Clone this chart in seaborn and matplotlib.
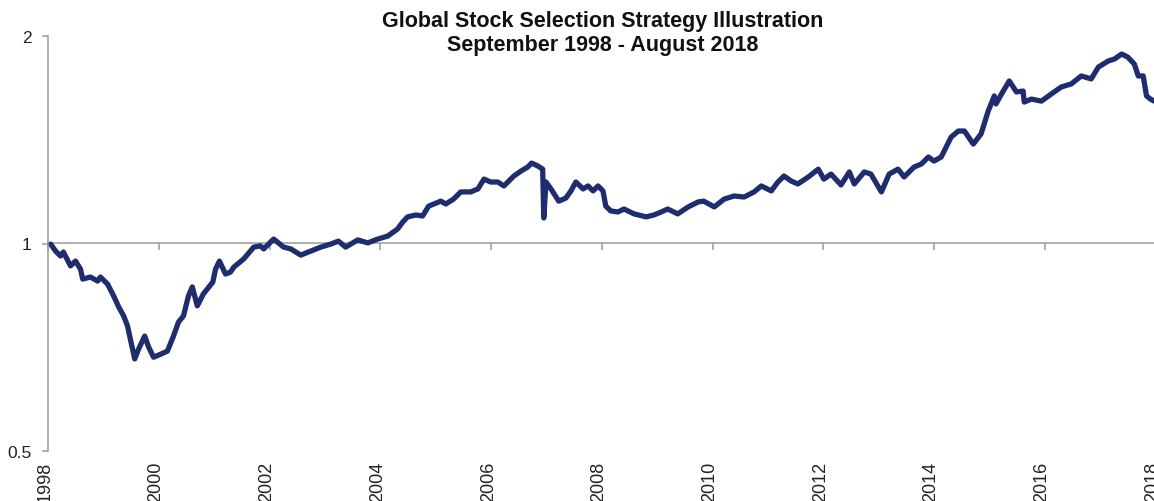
import numpy as np
import pandas as pd
import seaborn as sns
import matplotlib.pyplot as plt
from matplotlib.ticker import NullLocator
from matplotlib.transforms import ScaledTranslation

# values (decimal year, cumulative relative value)
years = [
    1998.04, 1998.13, 1998.22, 1998.27, 1998.40, 1998.49, 1998.58, 1998.62, 1998.76, 1998.89,
    1998.94, 1999.07, 1999.18, 1999.27, 1999.36, 1999.43, 1999.48, 1999.56, 1999.63, 1999.74,
    1999.81, 1999.90, 2000.03, 2000.15, 2000.26, 2000.35, 2000.44, 2000.53, 2000.60, 2000.69,
    2000.80, 2000.97, 2001.02, 2001.09, 2001.20, 2001.29, 2001.35, 2001.53, 2001.71, 2001.83,
    2001.89, 2002.07, 2002.25, 2002.38, 2002.56, 2002.74, 2002.92, 2003.10, 2003.24, 2003.37,
    2003.59, 2003.77, 2003.95, 2004.13, 2004.31, 2004.40, 2004.49, 2004.64, 2004.76, 2004.87,
    2005.09, 2005.18, 2005.32, 2005.45, 2005.63, 2005.76, 2005.87, 2005.99, 2006.12, 2006.23,
    2006.41, 2006.54, 2006.66, 2006.73, 2006.84, 2006.93, 2006.95, 2006.99, 2007.08, 2007.22,
    2007.35, 2007.44, 2007.53, 2007.66, 2007.75, 2007.84, 2007.93, 2008.02, 2008.07, 2008.16,
    2008.29, 2008.40, 2008.58, 2008.80, 2008.94, 2009.07, 2009.19, 2009.37, 2009.56, 2009.74,
    2009.84, 2010.03, 2010.21, 2010.39, 2010.57, 2010.75, 2010.88, 2011.06, 2011.18, 2011.29,
    2011.42, 2011.54, 2011.73, 2011.91, 2012.01, 2012.14, 2012.32, 2012.47, 2012.56, 2012.74,
    2012.86, 2013.05, 2013.19, 2013.35, 2013.46, 2013.64, 2013.77, 2013.90, 2014.00, 2014.13,
    2014.22, 2014.31, 2014.44, 2014.55, 2014.71, 2014.85, 2014.98, 2015.09, 2015.12, 2015.22,
    2015.36, 2015.49, 2015.61, 2015.63, 2015.76, 2015.94, 2016.12, 2016.30, 2016.48, 2016.66,
    2016.84, 2016.97, 2017.15, 2017.26, 2017.39, 2017.50, 2017.62, 2017.69, 2017.78, 2017.84,
    2017.91, 2017.98,
]
values = [
    0.998, 0.975, 0.959, 0.972, 0.928, 0.943, 0.918, 0.888, 0.894, 0.882,
    0.894, 0.873, 0.839, 0.809, 0.785, 0.759, 0.727, 0.680, 0.703, 0.734,
    0.708, 0.684, 0.691, 0.698, 0.734, 0.769, 0.785, 0.839, 0.865, 0.812,
    0.845, 0.879, 0.918, 0.943, 0.903, 0.909, 0.924, 0.950, 0.988, 0.992,
    0.982, 1.015, 0.988, 0.982, 0.962, 0.975, 0.988, 0.998, 1.008, 0.988,
    1.012, 1.002, 1.015, 1.025, 1.050, 1.074, 1.093, 1.100, 1.096, 1.133,
    1.152, 1.141, 1.160, 1.188, 1.188, 1.200, 1.240, 1.228, 1.228, 1.212,
    1.253, 1.274, 1.291, 1.308, 1.296, 1.282, 1.089, 1.228, 1.200, 1.152,
    1.164, 1.192, 1.228, 1.200, 1.212, 1.192, 1.212, 1.192, 1.133, 1.115,
    1.111, 1.122, 1.104, 1.093, 1.100, 1.111, 1.122, 1.104, 1.130, 1.149,
    1.152, 1.130, 1.160, 1.172, 1.168, 1.188, 1.212, 1.192, 1.228, 1.253,
    1.232, 1.220, 1.249, 1.282, 1.240, 1.261, 1.216, 1.270, 1.220, 1.270,
    1.261, 1.188, 1.261, 1.282, 1.249, 1.291, 1.304, 1.335, 1.317, 1.335,
    1.380, 1.427, 1.456, 1.456, 1.394, 1.442, 1.557, 1.637, 1.594, 1.648,
    1.721, 1.659, 1.664, 1.604, 1.620, 1.609, 1.648, 1.687, 1.704, 1.750,
    1.733, 1.803, 1.840, 1.852, 1.883, 1.864, 1.821, 1.750, 1.750, 1.637,
    1.620, 1.609,
]
year_ticks = list(range(1998, 2019, 2))
y_ticks = [0.5, 1, 2]
y_labels = ["0.5", "1", "2"]
title = "Global Stock Selection Strategy Illustration\nSeptember 1998 - August 2018"

df = pd.DataFrame({"year": years, "value": values})

sns.set_theme(style="white")
plt.rcParams["font.family"] = ["Liberation Sans", "DejaVu Sans"]

grey = "#9a9a9a"
navy = "#1f2d6e"

fig = plt.figure(figsize=(11.54, 5.02), dpi=100)
ax = fig.add_axes([48.4 / 1154, 50 / 502, (1156.5 - 48.4) / 1154, 415 / 502])

sns.lineplot(data=df, x="year", y="value", ax=ax, color=navy, lw=3.8,
             estimator=None, sort=False)

ax.set_yscale("log")
ax.set_ylim(0.5, 2)
ax.set_yticks(y_ticks, labels=y_labels)
ax.yaxis.set_minor_locator(NullLocator())
ax.set_xlim(1998, 2018.02)
ax.set_xticks(year_ticks, labels=[str(y) for y in year_ticks], rotation=90)
ax.set_xlabel("")
ax.set_ylabel("")

for s in ["top", "right", "bottom"]:
    ax.spines[s].set_visible(False)
ax.spines["left"].set_color(grey)
ax.spines["left"].set_linewidth(1.1)

ax.tick_params(axis="y", left=True, length=4, width=1.1, color=grey,
               pad=8, labelsize=12.5, labelcolor="#222222")
ax.tick_params(axis="x", bottom=True, length=0, pad=7,
               labelsize=13, labelcolor="#222222")
# year labels sit a touch left of their ticks
shift = ScaledTranslation(-3 / 100, 0, fig.dpi_scale_trans)
for lbl in ax.get_xticklabels():
    lbl.set_transform(lbl.get_transform() + shift)

# horizontal axis crossing at 1
sec = ax.secondary_xaxis(0.5)
sec.set_xticks(year_ticks, labels=[])
sec.tick_params(axis="x", top=True, direction="in", length=5, width=1.1,
                color=grey, labeltop=False)
for s in sec.spines.values():
    s.set_color(grey)
    s.set_linewidth(1.1)

fig.text(603 / 1154, 1 - 11 / 502, title, ha="center", va="top",
         fontsize=15.5, fontweight="bold", color="#111111", linespacing=1.2)

fig.savefig("out.png", dpi=100)
